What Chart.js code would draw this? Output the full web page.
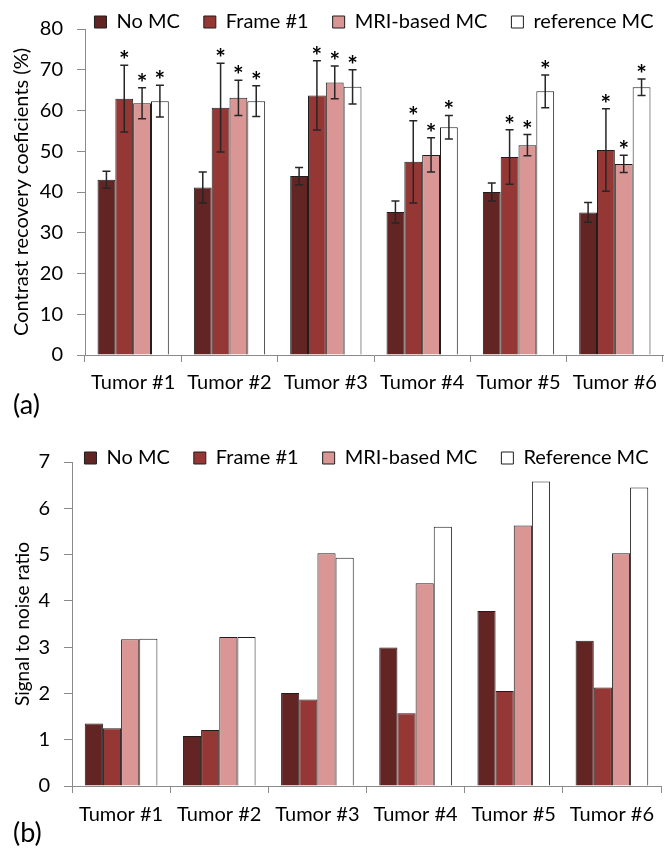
<!DOCTYPE html>
<html>
<head>
<meta charset="utf-8">
<script src="https://cdn.jsdelivr.net/npm/chart.js@4.4.1/dist/chart.umd.min.js"></script>
<style>
  html, body { margin: 0; padding: 0; background: #fff; }
  #page { position: relative; width: 671px; height: 849px; overflow: hidden; font-family: Lato, sans-serif; }
  .wrap { position: absolute; left: 0; width: 671px; }
  #wrapA { top: -12px; height: 412px; }
  #wrapB { top: 424px; height: 425px; }
  .panel { position: absolute; left: 13px; font-size: 27px; line-height: 28px; color: #000; }
</style>
</head>
<body>
<div id="page">
  <div class="wrap" id="wrapA"><canvas id="crc" width="671" height="412"></canvas></div>
  <div class="wrap" id="wrapB"><canvas id="snr" width="671" height="425"></canvas></div>
  <div class="panel" style="top:390px">(a)</div>
  <div class="panel" style="top:818px">(b)</div>
</div>
<script>
const tumors = ['Tumor #1', 'Tumor #2', 'Tumor #3', 'Tumor #4', 'Tumor #5', 'Tumor #6'];

// (a) contrast recovery coefficients, mean and error bar half-length
const crcNoMC = [43.0, 41.1, 43.9, 35.1, 40.0, 35.0];
const crcNoMCErr = [2.1, 3.8, 2.1, 2.7, 2.2, 2.4];
const crcFrame1 = [62.9, 60.7, 63.7, 47.4, 48.6, 50.3];
const crcFrame1Err = [8.2, 10.9, 8.5, 10.1, 6.7, 10.1];
const crcMri = [61.8, 63.1, 66.9, 49.1, 51.5, 46.9];
const crcMriErr = [3.8, 4.3, 4.0, 4.2, 2.6, 2.1];
const crcRef = [62.3, 62.3, 65.8, 55.9, 64.7, 65.7];
const crcRefErr = [3.9, 3.8, 4.2, 2.9, 4.0, 2.0];

// (b) signal to noise ratio
const snrNoMC = [1.35, 1.08, 2.01, 2.99, 3.78, 3.14];
const snrFrame1 = [1.25, 1.21, 1.87, 1.57, 2.05, 2.13];
const snrMri = [3.17, 3.22, 5.03, 4.38, 5.63, 5.03];
const snrRef = [3.18, 3.22, 4.93, 5.60, 6.58, 6.45];

const crcTicks = [0, 10, 20, 30, 40, 50, 60, 70, 80];
const snrTicks = [0, 1, 2, 3, 4, 5, 6, 7];

const colNoMC = '#632523';
const colFrame = '#953735';
const colMri = '#d99694';
const colRef = '#ffffff';
const axisGray = '#8a8a8a';
const FONT = 'Lato';

// legend: one row always, fixed height so the plot starts where it should,
// and the box is widened / let down a bit so nothing wraps or gets clipped
function legendBox(h, extra) {
  return {
    id: 'legendBox',
    beforeInit(chart) {
      const fit = chart.legend.fit;
      chart.legend.fit = function () {
        this.maxWidth = 2000;
        fit.call(this);
        this.height = h;
      };
    },
    afterLayout(chart) {
      const lg = chart.legend;
      lg.left -= 40;
      lg.right += 40;
      lg.width += 80;
      lg.bottom += extra;
      lg.height += extra;
    }
  };
}

// error bars + significance asterisks on top of the bars
const errorBars = {
  id: 'errorBars',
  afterDatasetsDraw(chart) {
    const ctx = chart.ctx;
    const y = chart.scales.y;
    ctx.save();
    chart.data.datasets.forEach((ds, i) => {
      if (!ds.errors) return;
      chart.getDatasetMeta(i).data.forEach((bar, j) => {
        const v = ds.data[j];
        const e = ds.errors[j];
        const top = y.getPixelForValue(v + e);
        const bot = y.getPixelForValue(v - e);
        ctx.strokeStyle = '#262626';
        ctx.lineWidth = 1.5;
        ctx.beginPath();
        ctx.moveTo(bar.x, top);
        ctx.lineTo(bar.x, bot);
        ctx.moveTo(bar.x - 4, top);
        ctx.lineTo(bar.x + 4, top);
        ctx.moveTo(bar.x - 4, bot);
        ctx.lineTo(bar.x + 4, bot);
        ctx.stroke();
        if (ds.starred) {
          ctx.fillStyle = '#000';
          ctx.font = 'bold 25px ' + FONT;
          ctx.textAlign = 'center';
          ctx.textBaseline = 'alphabetic';
          ctx.fillText('*', bar.x, top + 4);
        }
      });
    });
    ctx.restore();
  }
};

function barSet(label, data, color, extra) {
  return Object.assign({
    label: label,
    data: data,
    backgroundColor: color,
    borderColor: '#1e1e1e',
    borderWidth: 1,
    categoryPercentage: 0.74,
    barPercentage: 1.0
  }, extra || {});
}

function makeOptions(cfg) {
  return {
    responsive: false,
    animation: false,
    layout: { padding: { left: 0, right: cfg.padRight, top: 0, bottom: 0 } },
    plugins: {
      legend: {
        position: 'top',
        align: 'center',
        fullSize: false,
        labels: {
          boxWidth: 12,
          boxHeight: 12,
          padding: 24,
          color: '#000',
          font: { family: FONT, size: 20 }
        }
      },
      tooltip: { enabled: false }
    },
    scales: {
      x: {
        grid: { offset: true, drawOnChartArea: false, color: axisGray, tickLength: 7 },
        border: { color: axisGray, width: 1 },
        ticks: { color: '#000', padding: cfg.xPad, font: { family: FONT, size: 20 } },
        afterFit(scale) { scale.height = cfg.xHeight; }
      },
      y: {
        min: cfg.ticks[0],
        max: cfg.ticks[cfg.ticks.length - 1],
        afterBuildTicks(scale) { scale.ticks = cfg.ticks.map(v => ({ value: v })); },
        grid: { drawOnChartArea: false, color: axisGray, tickLength: 8 },
        border: { color: axisGray, width: 1 },
        ticks: { color: '#000', padding: 14, font: { family: FONT, size: 20 } },
        title: {
          display: true,
          text: cfg.title,
          color: '#000',
          padding: { top: cfg.titlePad, bottom: 0 },
          font: { family: FONT, size: cfg.titleSize }
        },
        afterFit(scale) { scale.width = cfg.yWidth; }
      }
    }
  };
}

new Chart(document.getElementById('crc'), {
  type: 'bar',
  data: {
    labels: tumors,
    datasets: [
      barSet('No MC', crcNoMC, colNoMC, { errors: crcNoMCErr }),
      barSet('Frame #1', crcFrame1, colFrame, { errors: crcFrame1Err, starred: true }),
      barSet('MRI-based MC', crcMri, colMri, { errors: crcMriErr, starred: true }),
      barSet('reference MC', crcRef, colRef, { errors: crcRefErr, starred: true })
    ]
  },
  options: makeOptions({
    padRight: 8, xPad: 9, xHeight: 45, yWidth: 85,
    ticks: crcTicks, title: 'Contrast recovery coeficients (%)', titleSize: 20, titlePad: 10
  }),
  plugins: [legendBox(41, 14), errorBars]
});

new Chart(document.getElementById('snr'), {
  type: 'bar',
  data: {
    labels: tumors,
    datasets: [
      barSet('No MC', snrNoMC, colNoMC),
      barSet('Frame #1', snrFrame1, colFrame),
      barSet('MRI-based MC', snrMri, colMri),
      barSet('Reference MC', snrRef, colRef)
    ]
  },
  options: makeOptions({
    padRight: 10, xPad: 10, xHeight: 63, yWidth: 72,
    ticks: snrTicks, title: 'Signal to noise ratio', titleSize: 19, titlePad: 11
  }),
  plugins: [legendBox(38, 14)]
});
</script>
</body>
</html>
